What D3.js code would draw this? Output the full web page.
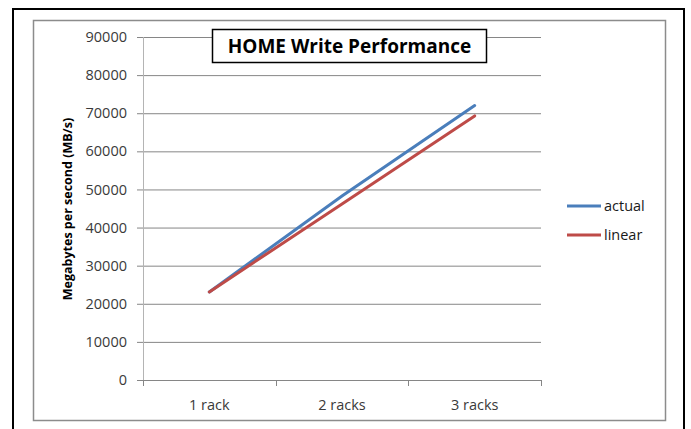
<!DOCTYPE html>
<html>
<head>
<meta charset="utf-8">
<script src="https://cdn.jsdelivr.net/npm/d3@7"></script>
<style>
  html, body { margin: 0; padding: 0; background: #fff; }
  svg { display: block; }
  text { font-family: "Open Sans", "Liberation Sans", sans-serif; }
</style>
</head>
<body>
<script>
// Write throughput per rack count
const categories = ["1 rack", "2 racks", "3 racks"];
const actual = [23100, 48300, 72000];
const linear = [23100, 46200, 69300];
const yTicks = [0, 10000, 20000, 30000, 40000, 50000, 60000, 70000, 80000, 90000];
const seriesNames = ["actual", "linear"];
const seriesColors = ["#4a7ebb", "#be4b48"];

const W = 691, H = 429;
const svg = d3.select("body").append("svg").attr("width", W).attr("height", H);

// outer frame and chart area border
svg.append("rect").attr("x", 13).attr("y", 9).attr("width", 671).attr("height", 430)
  .attr("fill", "#fff").attr("stroke", "#000").attr("stroke-width", 2);
svg.append("rect").attr("x", 33.5).attr("y", 20.5).attr("width", 632).attr("height", 400)
  .attr("fill", "#fff").attr("stroke", "#8c8c8c").attr("stroke-width", 1.5);

const plot = { left: 143, right: 541, top: 37, bottom: 380 };

const x = d3.scaleBand().domain(categories).range([plot.left, plot.right]).padding(0);
const y = d3.scaleLinear().domain([0, 90000]).range([plot.bottom, plot.top]);

// horizontal gridlines with short left ticks
const yAxis = d3.axisLeft(y).tickValues(yTicks).tickSize(-(plot.right - plot.left)).tickSizeOuter(0)
  .tickPadding(16).tickFormat(d3.format("d"));
const gy = svg.append("g").attr("transform", `translate(${plot.left},0)`).call(yAxis);
gy.select(".domain").remove();
gy.selectAll(".tick line").attr("stroke", "#868686").attr("stroke-width", 1)
  .attr("x1", -6).attr("x2", plot.right - plot.left);
gy.selectAll(".tick text").attr("fill", "#3a3a3a").style("font-size", "14.5px").attr("x", -16);

// vertical axis line
svg.append("line").attr("x1", plot.left + 0.5).attr("x2", plot.left + 0.5)
  .attr("y1", plot.top).attr("y2", plot.bottom)
  .attr("stroke", "#b4b4b4").attr("stroke-width", 1);

// category axis
const xAxis = d3.axisBottom(x).tickSize(0).tickPadding(20);
const gx = svg.append("g").attr("transform", `translate(0,${plot.bottom})`).call(xAxis);
gx.select(".domain").remove();
gx.selectAll(".tick text").attr("fill", "#3a3a3a").style("font-size", "14.5px");
const bounds = [plot.left].concat(categories.map(c => x(c) + x.bandwidth()));
svg.append("g").selectAll("line").data(bounds).join("line")
  .attr("x1", d => Math.round(d) + 0.5).attr("x2", d => Math.round(d) + 0.5)
  .attr("y1", plot.bottom).attr("y2", plot.bottom + 6)
  .attr("stroke", "#868686");

// series lines
const line = d3.line()
  .x((d, i) => x(categories[i]) + x.bandwidth() / 2)
  .y(d => y(d));
[actual, linear].forEach((vals, k) => {
  svg.append("path").datum(vals).attr("d", line)
    .attr("fill", "none").attr("stroke", seriesColors[k])
    .attr("stroke-width", 3).attr("stroke-linecap", "round");
});

// y axis title
svg.append("text")
  .attr("transform", "translate(72,209) rotate(-90)")
  .attr("text-anchor", "middle").attr("font-weight", "bold")
  .style("font-size", "12.5px").attr("fill", "#000")
  .text("Megabytes per second (MB/s)");

// chart title box
svg.append("rect").attr("x", 212.5).attr("y", 29.5).attr("width", 274).attr("height", 33)
  .attr("fill", "#fff").attr("stroke", "#000").attr("stroke-width", 1.5);
svg.append("text").attr("x", 349.5).attr("y", 53).attr("text-anchor", "middle")
  .attr("font-weight", "bold").style("font-size", "19px").attr("fill", "#000")
  .text("HOME Write Performance");

// legend
const lg = svg.append("g").selectAll("g").data(seriesNames).join("g")
  .attr("transform", (d, i) => `translate(567,${206 + i * 29})`);
lg.append("line").attr("x1", 0).attr("x2", 34).attr("y1", 0).attr("y2", 0)
  .attr("stroke", (d, i) => seriesColors[i]).attr("stroke-width", 3);
lg.append("text").attr("x", 37).attr("y", 5).style("font-size", "14.5px").attr("fill", "#1a1a1a")
  .text(d => d);
</script>
</body>
</html>
